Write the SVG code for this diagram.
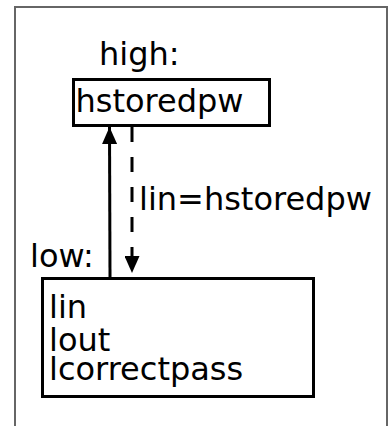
<svg xmlns="http://www.w3.org/2000/svg" width="389" height="426" viewBox="0 0 389 426">
  <style>
    .lbl { font-family: "DejaVu Sans", sans-serif; font-size: 32px; fill: #000; }
    .box { fill: #fff; stroke: #000; stroke-width: 3; }
    .edge { stroke: #000; stroke-width: 3; fill: none; }
  </style>
  <defs>
    <marker id="head" viewBox="0 0 17 15" refX="17" refY="7.5" markerWidth="17" markerHeight="15" markerUnits="userSpaceOnUse" orient="auto">
      <path d="M0,0 L17,7.5 L0,15 Z" fill="#000"/>
    </marker>
  </defs>
  <rect x="0" y="0" width="389" height="426" fill="#fff"/>
  <!-- outer frame -->
  <path d="M15,430 L15,7 L387,7 L387,430" fill="none" stroke="#666" stroke-width="2"/>

  <text class="lbl" x="99" y="65">high:</text>
  <text class="lbl" x="30" y="267">low:</text>

  <g id="high">
    <rect class="box" x="73.5" y="79.5" width="196" height="46"/>
    <text class="lbl" x="75.5" y="112">hstoredpw</text>
  </g>

  <g id="low">
    <rect class="box" x="42.5" y="278.5" width="271" height="118"/>
    <text class="lbl" x="49" y="318">lin</text>
    <text class="lbl" x="49" y="351">lout</text>
    <text class="lbl" x="49" y="380">lcorrectpass</text>
  </g>

  <g id="connectors">
    <line class="edge" x1="110" y1="277" x2="109.5" y2="127" marker-end="url(#head)"/>
    <line class="edge" x1="132" y1="127" x2="132" y2="273" stroke-dasharray="15,15" marker-end="url(#head)"/>
    <text class="lbl" x="139" y="210">lin=hstoredpw</text>
  </g>
</svg>
